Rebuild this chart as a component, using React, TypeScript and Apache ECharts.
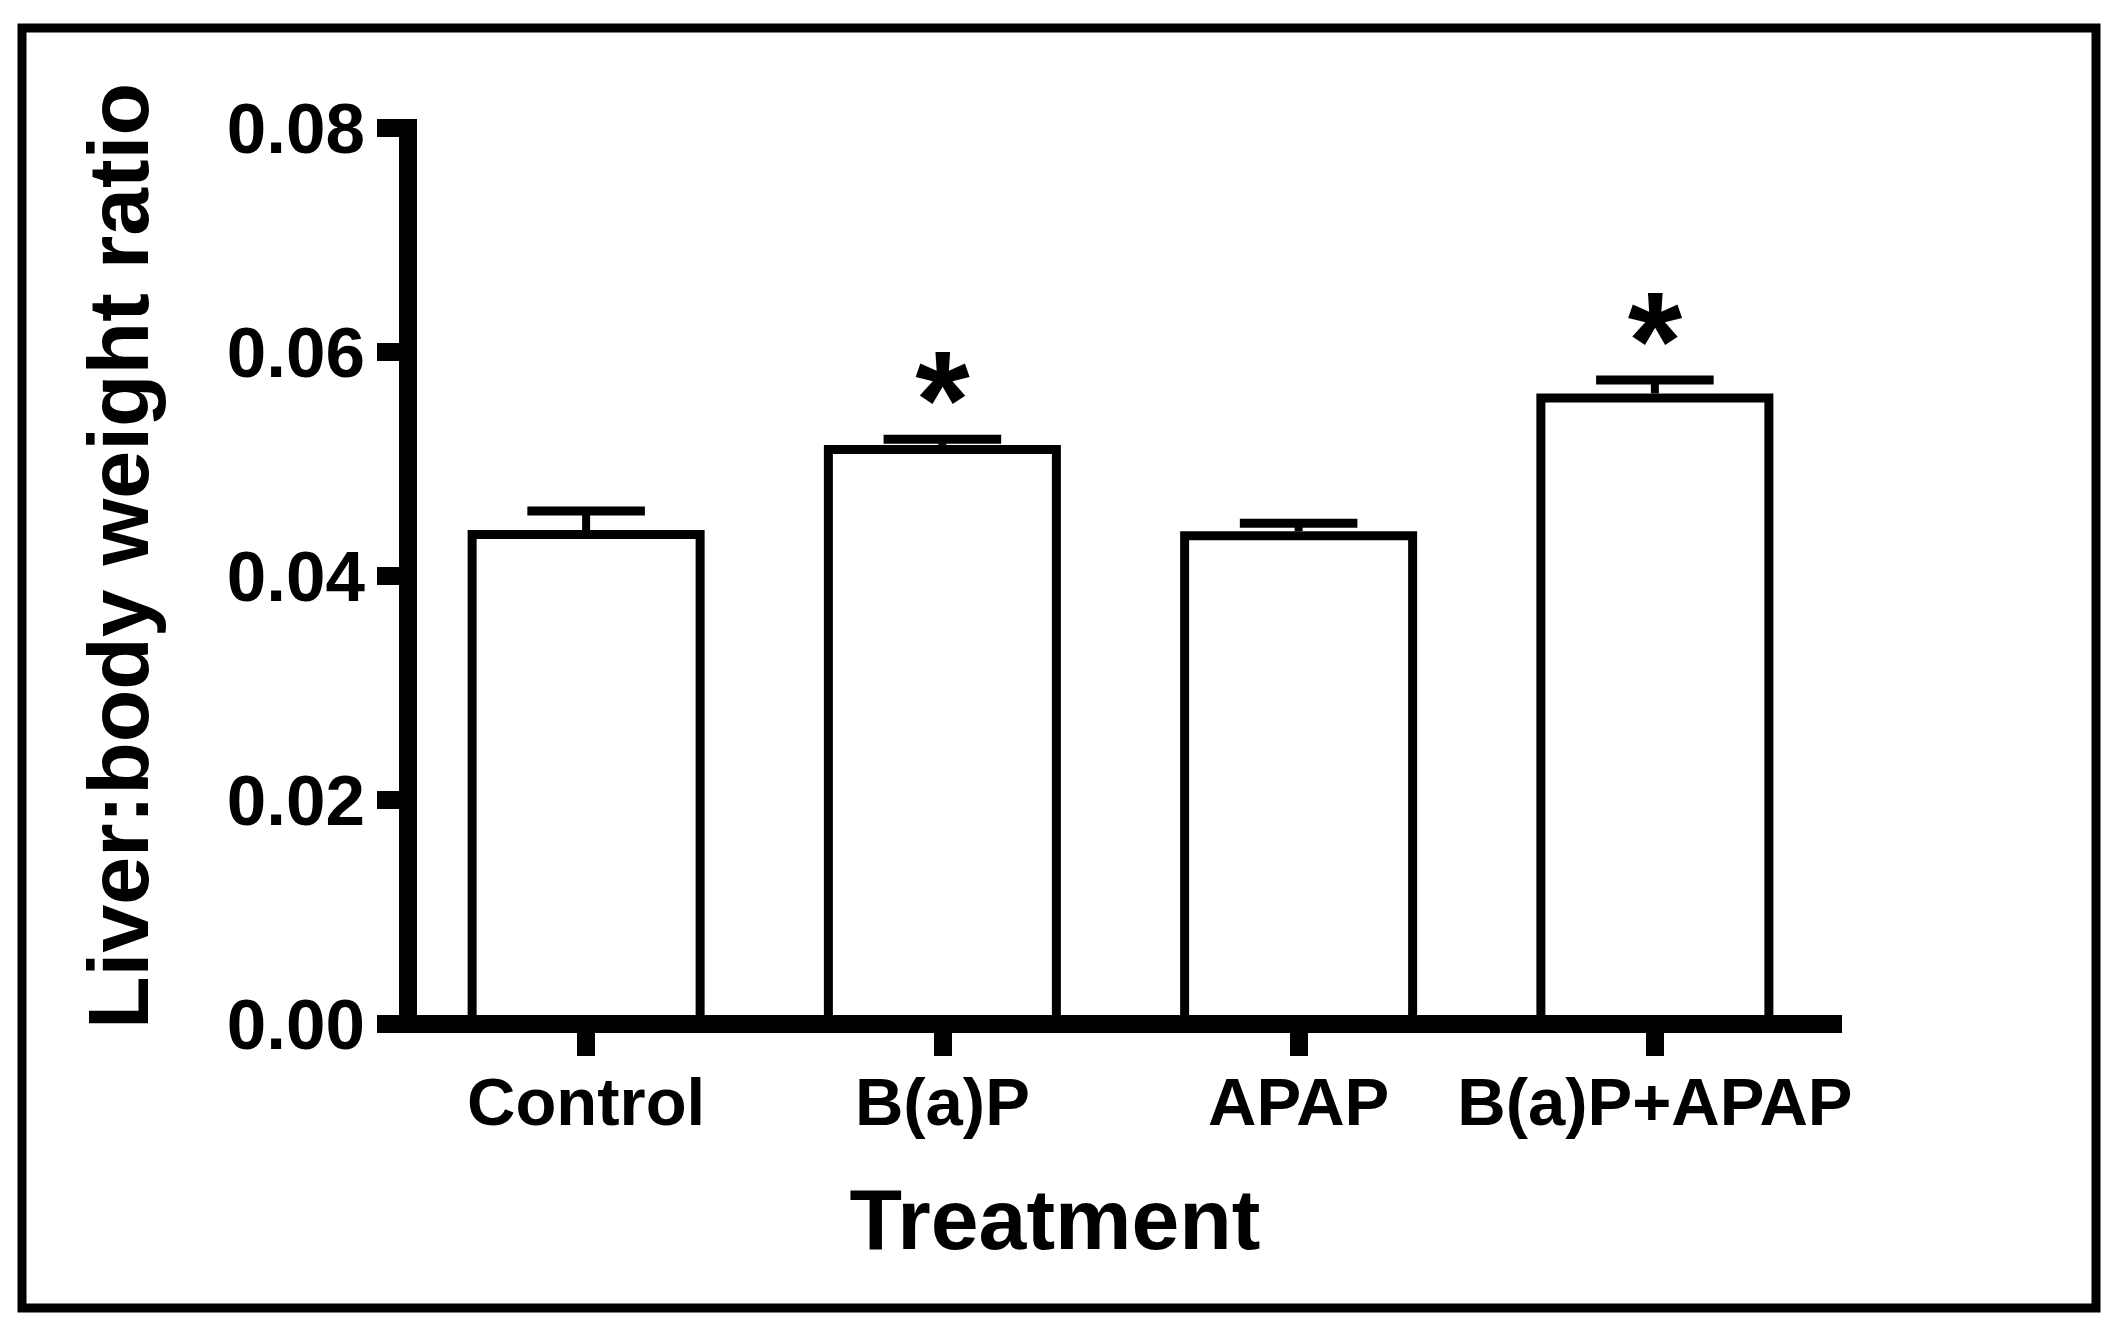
import React, { useEffect, useRef } from "react";
import * as echarts from "echarts";

const categories = ["Control", "B(a)P", "APAP", "B(a)P+APAP"];
const means = [0.0441, 0.0517, 0.044, 0.0563];
const sems = [0.0017, 0.0005, 0.0007, 0.0012];
const significance = ["", "*", "", "*"];
const yTicks = [0, 0.02, 0.04, 0.06, 0.08];

const FONT = "'Liberation Sans', Arial, Helvetica, sans-serif";

export default function App() {
  const ref = useRef<HTMLDivElement>(null);

  useEffect(() => {
    if (!ref.current) return;
    const chart = echarts.init(ref.current, undefined, { renderer: "svg" });

    const errData = categories.map((c, i) => [i, means[i], sems[i], significance[i]]);

    const option: any = {
      animation: false,
      backgroundColor: "#ffffff",
      grid: { left: 408, top: 128, width: 1425, height: 896, containLabel: false },
      graphic: [
        {
          type: "rect",
          shape: { x: 22, y: 28, width: 2074, height: 1280 },
          style: { fill: "none", stroke: "#000", lineWidth: 9 },
          silent: true,
          z: 0,
        },
      ],
      xAxis: {
        type: "category",
        data: categories,
        boundaryGap: true,
        name: "Treatment",
        nameLocation: "middle",
        nameGap: 152,
        nameTextStyle: {
          fontFamily: FONT,
          fontWeight: "bold",
          fontSize: 86,
          color: "#000",
          padding: [0, 131, 0, 0],
        },
        axisLine: { show: true, lineStyle: { color: "#000", width: 18, cap: "square" } },
        axisTick: { show: true, alignWithLabel: true, length: 32, lineStyle: { color: "#000", width: 18 } },
        axisLabel: { interval: 0, fontFamily: FONT, fontWeight: "bold", fontSize: 67, color: "#000", margin: 44 },
        splitLine: { show: false },
      },
      yAxis: {
        type: "value",
        min: yTicks[0],
        max: yTicks[yTicks.length - 1],
        interval: 0.02,
        name: "Liver:body weight ratio",
        nameLocation: "middle",
        nameRotate: 90,
        nameGap: 247,
        nameTextStyle: {
          fontFamily: FONT,
          fontWeight: "bold",
          fontSize: 86,
          color: "#000",
          padding: [0, 0, 0, 40],
        },
        axisLine: { show: true, lineStyle: { color: "#000", width: 18, cap: "square" } },
        axisTick: { show: true, length: 31, lineStyle: { color: "#000", width: 18 } },
        axisLabel: {
          fontFamily: FONT,
          fontWeight: "bold",
          fontSize: 71,
          color: "#000",
          margin: 43,
          formatter: (v: number) => v.toFixed(2),
        },
        splitLine: { show: false },
      },
      series: [
        {
          type: "bar",
          data: means,
          barWidth: 237,
          itemStyle: { color: "#ffffff", borderColor: "#000", borderWidth: 9 },
          z: 2,
        },
        {
          type: "custom",
          data: errData,
          z: 3,
          renderItem: (params: any, api: any) => {
            const idx = api.value(0);
            const m = api.value(1);
            const s = api.value(2);
            const sig = errData[params.dataIndex][3];
            const base = api.coord([idx, m]);
            const top = api.coord([idx, m + s]);
            const band = api.size([1, 0])[0];
            const half = band * 0.165;
            const children: any[] = [
              {
                type: "line",
                shape: { x1: base[0], y1: base[1], x2: top[0], y2: top[1] },
                style: { stroke: "#000", lineWidth: 8 },
              },
              {
                type: "line",
                shape: { x1: top[0] - half, y1: top[1], x2: top[0] + half, y2: top[1] },
                style: { stroke: "#000", lineWidth: 9 },
              },
            ];
            if (sig) {
              children.push({
                type: "text",
                x: top[0],
                y: top[1] - 40,
                style: {
                  text: sig,
                  fontFamily: FONT,
                  fontWeight: "bold",
                  fontSize: 140,
                  fill: "#000",
                  align: "center",
                  verticalAlign: "middle",
                },
              });
            }
            return { type: "group", children };
          },
        },
      ],
    };

    chart.setOption(option);
    return () => chart.dispose();
  }, []);

  return (
    <div
      ref={ref}
      style={{ position: "absolute", left: 0, top: 0, width: 2117, height: 1331, background: "#fff" }}
    />
  );
}
